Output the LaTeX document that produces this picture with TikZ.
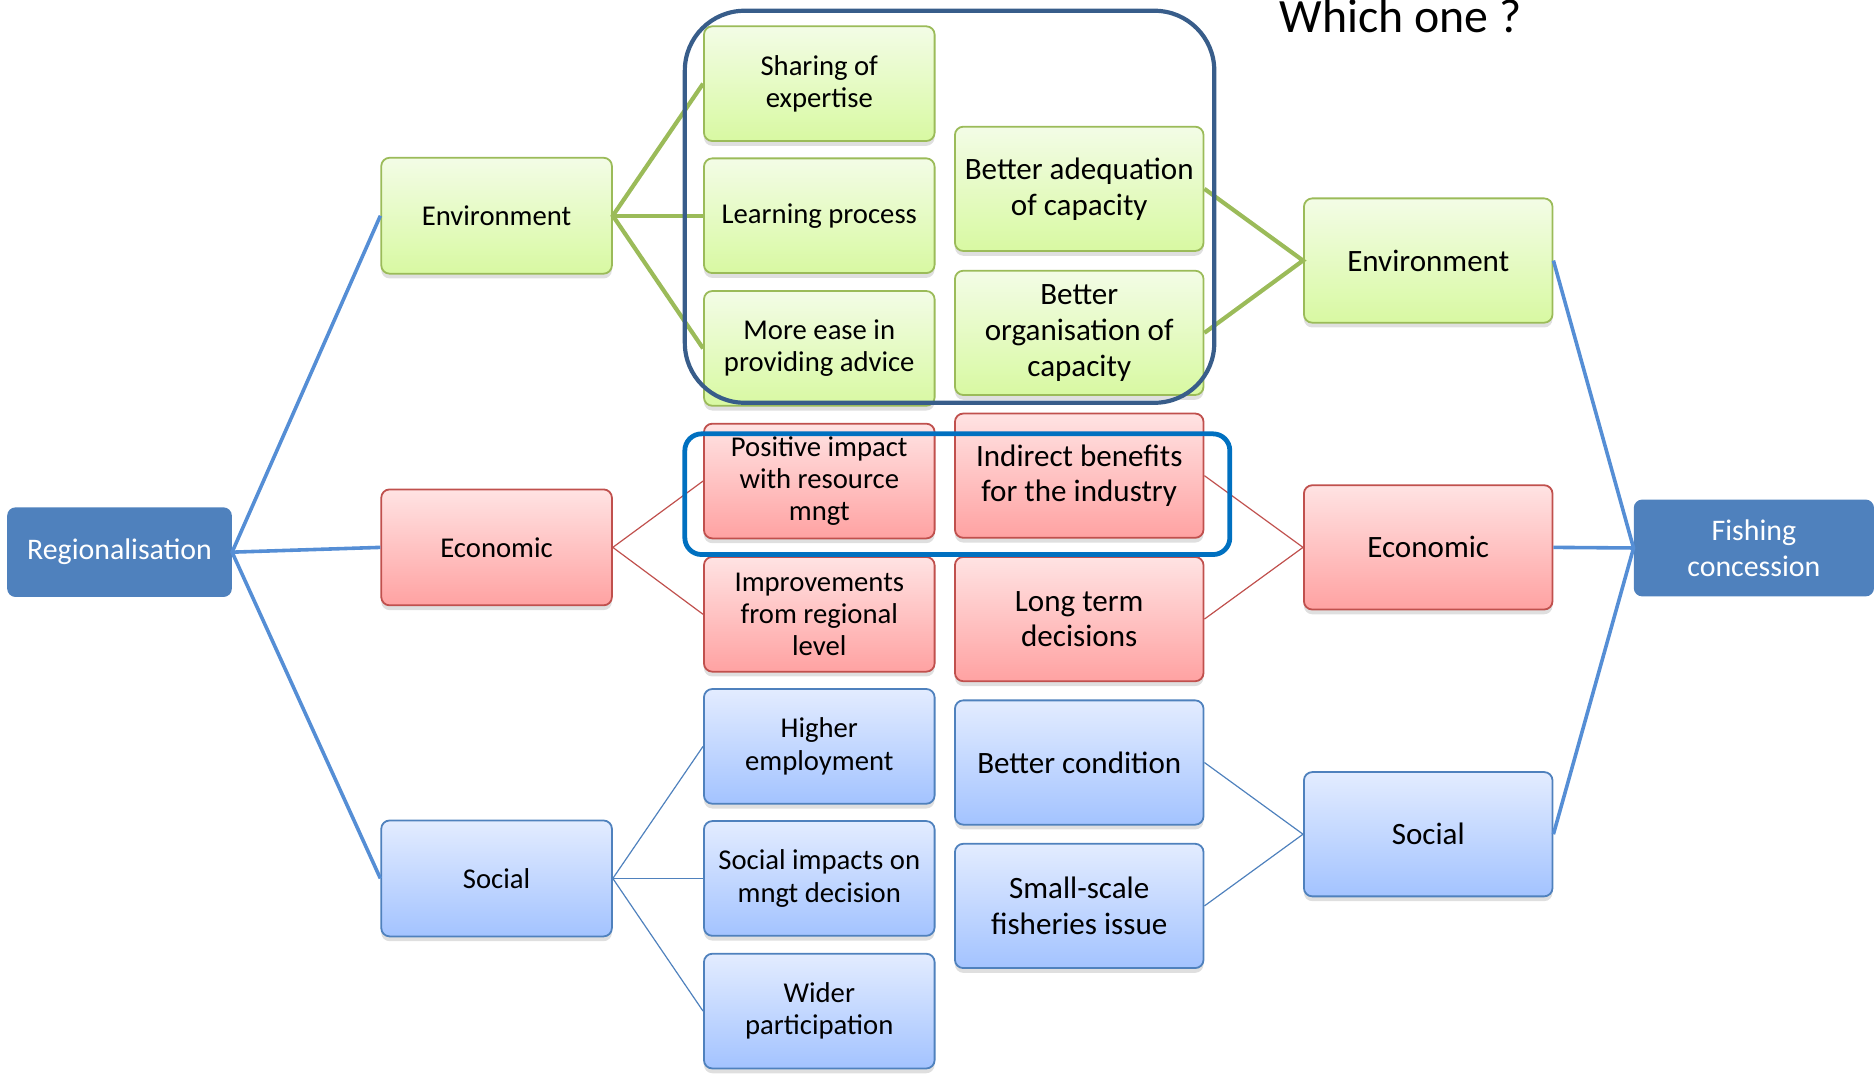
\documentclass[tikz,border=0pt]{standalone}
\usepackage{fontspec}
\setmainfont{Carlito}
\usetikzlibrary{shadows}

\definecolor{grnline}{HTML}{9BBB59}
\definecolor{grntop}{HTML}{F3FCE6}
\definecolor{grnbot}{HTML}{D8F9A2}
\definecolor{redline}{HTML}{C0504D}
\definecolor{redtop}{HTML}{FFE3E3}
\definecolor{redbot}{HTML}{FFA2A2}
\definecolor{bluline}{HTML}{4F81BD}
\definecolor{blutop}{HTML}{E3ECFF}
\definecolor{blubot}{HTML}{A3C3FF}
\definecolor{mainblue}{HTML}{4F81BD}
\definecolor{linkblue}{HTML}{558ED5}
\definecolor{framedark}{HTML}{385D8A}
\definecolor{framelight}{HTML}{0070C0}

\tikzset{
  box/.style={rounded corners=7pt, line width=1.5pt, align=center, inner sep=2pt,
    drop shadow={shadow xshift=0pt, shadow yshift=-4pt, opacity=.25}},
  smallbox/.style={box, minimum width=193pt, minimum height=96pt, font=\fontsize{24}{27}\selectfont},
  bigbox/.style={box, minimum width=208pt, minimum height=104pt, font=\fontsize{26}{30}\selectfont},
  grn/.style={draw=grnline, top color=grntop, bottom color=grnbot},
  rd/.style={draw=redline, top color=redtop, bottom color=redbot},
  bl/.style={draw=bluline, top color=blutop, bottom color=blubot},
  endbox/.style={rounded corners=7pt, fill=mainblue, text=white, align=center,
    font=\fontsize{25}{30}\selectfont},
  trunk/.style={draw=linkblue, line width=3pt},
  grnlink/.style={draw=grnline, line width=3.5pt},
  redlink/.style={draw=redline, line width=1pt},
  blulink/.style={draw=bluline, line width=1pt}
}

\begin{document}
\begin{tikzpicture}[x=1pt,y=-1pt]
\useasboundingbox (0,0) rectangle (1568,898.6);

% ends
\node[endbox, minimum width=188pt, minimum height=75pt] (reg) at (100,462) {Regionalisation};
\node[endbox, minimum width=201pt, minimum height=81pt] (fish) at (1467.5,458.5) {Fishing\\concession};

% left side
\node[smallbox, grn, minimum height=97pt] (env) at (415.5,180.5) {Environment};
\node[smallbox, rd, minimum height=97pt]  (eco) at (415.5,458) {Economic};
\node[smallbox, bl, minimum height=97pt]  (soc) at (415.5,735) {Social};

\node[smallbox, grn] (share) at (685.5,70) {Sharing of\\expertise};
\node[smallbox, grn] (learn) at (685.5,180.5) {Learning process};
\node[smallbox, grn] (ease)  at (685.5,291.5) {More ease in\\providing advice};
\node[smallbox, rd]  (posi)  at (685.5,402.5) {Positive impact\\with resource\\mngt};
\node[smallbox, rd]  (impr)  at (685.5,514) {Improvements\\from regional\\level};
\node[smallbox, bl]  (high)  at (685.5,624.5) {Higher\\employment};
\node[smallbox, bl]  (simp)  at (685.5,735) {Social impacts on\\mngt decision};
\node[smallbox, bl]  (wide)  at (685.5,846) {Wider\\participation};

% right side
\node[bigbox, grn] (adeq)  at (903,158) {Better adequation\\of capacity};
\node[bigbox, grn] (orga)  at (903,278.5) {Better\\organisation of\\capacity};
\node[bigbox, rd]  (indi)  at (903,398) {Indirect benefits\\for the industry};
\node[bigbox, rd]  (long)  at (903,518) {Long term\\decisions};
\node[bigbox, bl]  (cond)  at (903,638) {Better condition};
\node[bigbox, bl]  (small) at (903,758) {Small-scale\\fisheries issue};

\node[bigbox, grn] (env2) at (1195,218) {Environment};
\node[bigbox, rd]  (eco2) at (1195,458) {Economic};
\node[bigbox, bl]  (soc2) at (1195,698) {Social};

\node[font=\fontsize{40}{44}\selectfont, anchor=base] (which) at (1172,27) {Which one ?};

% links
\draw[trunk] (env.west) -- (reg.east) -- (soc.west);
\draw[trunk] (reg.east) -- (eco.west);
\draw[trunk] (env2.east) -- (fish.west) -- (soc2.east);
\draw[trunk] (fish.west) -- (eco2.east);

\draw[grnlink] (share.west) -- (env.east) -- (ease.west);
\draw[grnlink] (env.east) -- (learn.west);
\draw[redlink] (posi.west) -- (eco.east) -- (impr.west);
\draw[blulink] (high.west) -- (soc.east) -- (wide.west);
\draw[blulink] (soc.east) -- (simp.west);

\draw[grnlink] (adeq.east) -- (env2.west) -- (orga.east);
\draw[redlink] (indi.east) -- (eco2.west) -- (long.east);
\draw[blulink] (cond.east) -- (soc2.west) -- (small.east);

% frames
\draw[framedark, line width=3.5pt, rounded corners=50pt] (573,9) rectangle (1016,337);
\draw[framelight, line width=4pt, rounded corners=14pt] (573,363) rectangle (1029,464);
\end{tikzpicture}
\end{document}
